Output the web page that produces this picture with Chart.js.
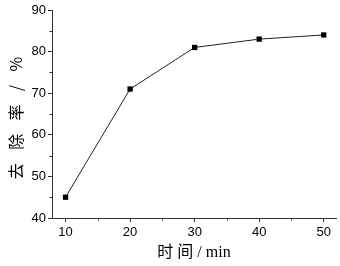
<!DOCTYPE html>
<html><head><meta charset="utf-8">
<script src="https://cdn.jsdelivr.net/npm/chart.js@4"></script>
<style>html,body{margin:0;padding:0;background:#fff}#wrap{width:340px;height:266px}</style>
</head><body><div id="wrap"><canvas id="c" width="340" height="266"></canvas></div>
<script>
const times = [10, 20, 30, 40, 50];
const removal = [45, 71, 81, 83, 84];
const xTicks = [10, 20, 30, 40, 50];
const yTicks = [40, 50, 60, 70, 80, 90];
const xTitle = '时 间 / min';
const yTitle = '去\u2002\u2004除\u2002\u2004率\u2002\u2004/\u2002\u2004%\u2002';

const axisColor = '#333';
const minorTicks = {
  id: 'minorTicks',
  afterDraw(chart) {
    const ctx = chart.ctx, x = chart.scales.x, y = chart.scales.y;
    ctx.save();
    ctx.strokeStyle = axisColor; ctx.lineWidth = 1;
    ctx.beginPath();
    for (let v = 15; v < x.max; v += 10) {
      const px = Math.round(x.getPixelForValue(v)) + 0.5;
      ctx.moveTo(px, y.bottom); ctx.lineTo(px, y.bottom + 2.5);
    }
    for (let v = 45; v < y.max; v += 10) {
      const py = Math.round(y.getPixelForValue(v)) + 0.5;
      ctx.moveTo(x.left, py); ctx.lineTo(x.left - 2.5, py);
    }
    ctx.stroke();
    ctx.restore();
  }
};

new Chart(document.getElementById('c'), {
  type: 'line',
  data: {
    datasets: [{
      data: times.map((t, i) => ({x: t, y: removal[i]})),
      borderColor: '#222', borderWidth: 1,
      pointStyle: 'rect', pointRadius: 3.75,
      pointBackgroundColor: '#000', pointBorderColor: '#000', pointBorderWidth: 0,
      tension: 0
    }]
  },
  options: {
    responsive: false, animation: false,
    layout: {padding: {top: 10, right: 3, left: 0, bottom: 0}},
    plugins: {legend: {display: false}, tooltip: {enabled: false}},
    scales: {
      x: {
        type: 'linear', min: 7.9, max: 51.9,
        afterBuildTicks: s => { s.ticks = xTicks.map(v => ({value: v})); },
        afterFit: s => { s.height = 48; },
        border: {display: true, color: axisColor, width: 1},
        grid: {drawOnChartArea: false, drawTicks: true, tickLength: 4, color: axisColor},
        ticks: {color: '#000', padding: 3, maxRotation: 0, font: {family: "'Liberation Sans', Arial, sans-serif", size: 13}},
        title: {display: true, text: xTitle, color: '#000', padding: {top: 0, bottom: 3.5},
          font: {family: "'Liberation Serif', 'Noto Sans CJK SC', serif", size: 16}}
      },
      y: {
        type: 'linear', min: 40, max: 90,
        afterBuildTicks: s => { s.ticks = yTicks.map(v => ({value: v})); },
        afterFit: s => { s.width = 52; },
        border: {display: true, color: axisColor, width: 1},
        grid: {drawOnChartArea: false, drawTicks: true, tickLength: 4, color: axisColor},
        ticks: {color: '#000', padding: 2, font: {family: "'Liberation Sans', Arial, sans-serif", size: 13}},
        title: {display: true, text: yTitle, color: '#000', padding: {top: 6, bottom: 0},
          font: {family: "'Noto Sans CJK SC', 'Liberation Serif', serif", size: 16}}
      }
    }
  },
  plugins: [minorTicks]
});
</script></body></html>
